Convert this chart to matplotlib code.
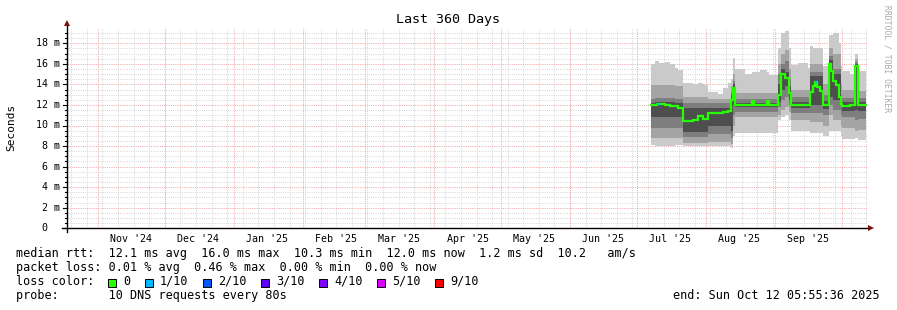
import datetime as dt
import numpy as np
import matplotlib
matplotlib.use("Agg")
import matplotlib.pyplot as plt
from matplotlib.patches import Rectangle

W, H, DPI = 897, 310, 100

# ---------------- data ----------------
title = "Last 360 Days"
end_time = dt.datetime(2025, 10, 12, 5, 55, 36)
span_days = 360
start_time = end_time - dt.timedelta(days=span_days)

# time of each step (days since start of the 360-day window)
days = [263.1, 264.9, 265.8, 266.7, 269.3, 271.6, 273.8, 275.2,
        277.4, 281.9, 284.2, 286.4, 288.7, 293.2, 295.4, 297.7,
        299.0, 299.9, 300.8, 305.3, 308.5, 309.4, 312.1, 315.2, 316.1,
        320.2, 321.5, 323.3, 325.1, 326.0, 329.1, 333.6,
        334.5, 335.9, 336.8, 337.7, 339.0, 340.3,
        343.0, 343.9, 344.8, 346.2, 347.5, 348.4,
        348.9, 352.5, 354.8, 356.1, 359.6]
# median rtt (ms)
median = [11.95, 12.0, 12.1, 12.05, 11.95, 11.9, 11.85, 11.75,
          10.4, 10.5, 10.9, 10.6, 11.2, 11.25, 11.3, 11.4,
          12.5, 13.6, 12.0, 12.0, 12.4, 12.0, 12.0, 12.4, 12.0,
          13.0, 15.0, 14.6, 13.2, 12.0, 12.0, 12.0,
          13.3, 13.8, 14.2, 13.7, 13.4, 12.0,
          16.0, 15.3, 14.3, 13.9, 12.8, 12.1,
          11.9, 12.0, 15.8, 12.0, 12.0]
# packets lost out of 10
loss = [0, 0, 1, 0, 0, 0, 0, 0,
        0, 0, 0, 0, 0, 0, 0, 0,
        0, 0, 0, 0, 0, 0, 0, 0, 0,
        0, 0, 0, 0, 0, 0, 0,
        0, 0, 1, 0, 0, 0,
        0, 0, 0, 0, 0, 0,
        0, 0, 0, 0, 0]
# smoke bands (ms): 1 = innermost ... 4 = outermost
smoke1_lo = [10.8, 10.8, 10.8, 10.8, 10.8, 10.8, 10.8, 10.8,
             9.4, 9.4, 9.4, 9.4, 10.0, 10.0, 10.0, 10.0,
             9.5, 12.0, 11.8, 11.8, 11.8, 11.8, 11.8, 11.8, 11.8,
             12.3, 13.5, 13.8, 12.5, 11.7, 11.7, 11.7,
             12.0, 12.0, 12.0, 12.0, 12.0, 11.6,
             12.8, 12.8, 12.5, 12.5, 12.5, 11.8,
             11.4, 11.4, 11.5, 11.4, 11.4]
smoke1_hi = [12.2, 12.3, 12.3, 12.3, 12.3, 12.3, 12.2, 12.2,
             11.7, 11.7, 11.7, 11.7, 11.7, 11.7, 11.7, 11.7,
             13.0, 14.0, 12.2, 12.2, 12.5, 12.2, 12.2, 12.5, 12.2,
             14.0, 15.5, 15.2, 13.8, 12.3, 12.3, 12.3,
             14.8, 14.8, 14.8, 14.8, 14.8, 12.4,
             16.4, 16.4, 15.0, 15.0, 15.0, 12.4,
             12.3, 12.3, 16.0, 12.3, 12.3]
smoke2_lo = [9.8, 9.8, 9.8, 9.8, 9.8, 9.8, 9.8, 9.8,
             8.9, 8.9, 8.9, 8.9, 9.2, 9.2, 9.2, 9.2,
             8.8, 11.0, 11.3, 11.3, 11.3, 11.3, 11.3, 11.3, 11.3,
             11.8, 12.5, 12.8, 12.0, 11.2, 11.2, 11.2,
             11.2, 11.2, 11.2, 11.2, 11.2, 11.0,
             12.0, 12.0, 11.5, 11.5, 11.5, 11.0,
             10.8, 10.8, 10.5, 10.6, 10.6]
smoke2_hi = [12.6, 12.7, 12.7, 12.7, 12.7, 12.7, 12.6, 12.6,
             12.2, 12.2, 12.2, 12.2, 12.2, 12.2, 12.2, 12.2,
             13.3, 14.3, 12.6, 12.6, 12.6, 12.6, 12.6, 12.6, 12.6,
             15.0, 16.0, 16.3, 14.5, 12.8, 12.8, 12.8,
             15.2, 15.2, 15.2, 15.2, 15.2, 13.0,
             16.8, 16.8, 15.5, 15.5, 15.5, 13.0,
             12.7, 12.7, 16.2, 12.7, 12.7]
smoke3_lo = [8.8, 8.8, 8.8, 8.8, 8.8, 8.8, 8.8, 8.8,
             8.3, 8.3, 8.3, 8.3, 8.4, 8.4, 8.4, 8.4,
             8.2, 10.0, 10.8, 10.8, 10.8, 10.8, 10.8, 10.8, 10.8,
             11.0, 11.5, 11.8, 11.3, 10.5, 10.5, 10.5,
             10.3, 10.3, 10.3, 10.3, 10.3, 10.0,
             11.0, 11.0, 10.5, 10.5, 10.5, 10.0,
             9.8, 9.8, 9.5, 9.6, 9.6]
smoke3_hi = [13.9, 13.9, 13.9, 13.9, 13.9, 13.9, 13.8, 13.8,
             12.8, 12.8, 12.8, 12.8, 12.6, 12.6, 12.6, 12.6,
             13.8, 15.0, 13.2, 13.2, 13.2, 13.2, 13.2, 13.2, 13.2,
             16.0, 17.0, 17.3, 15.5, 13.5, 13.5, 13.5,
             16.0, 16.0, 16.0, 16.0, 16.0, 14.0,
             17.5, 17.5, 17.0, 17.0, 17.0, 14.0,
             13.5, 13.5, 16.5, 13.4, 13.4]
smoke4_lo = [8.1, 8.0, 8.0, 8.0, 8.0, 8.0, 8.1, 8.1,
             8.0, 8.0, 8.0, 8.0, 8.0, 8.0, 8.0, 8.0,
             7.8, 9.0, 9.3, 9.3, 9.3, 9.3, 9.3, 9.3, 9.3,
             10.5, 10.8, 11.0, 10.5, 9.5, 9.5, 9.5,
             9.3, 9.3, 9.3, 9.3, 9.3, 9.0,
             9.5, 9.5, 9.5, 9.5, 9.5, 9.0,
             8.7, 8.7, 8.8, 8.6, 8.6]
smoke4_hi = [16.0, 16.3, 16.3, 16.1, 16.2, 16.0, 15.6, 15.4,
             14.1, 14.0, 14.1, 13.9, 13.3, 13.1, 13.6, 14.1,
             14.5, 16.6, 15.5, 15.0, 15.2, 15.2, 15.4, 15.2, 14.9,
             17.5, 19.0, 19.2, 17.5, 15.9, 16.1, 15.6,
             17.7, 17.5, 17.5, 17.5, 17.5, 15.8,
             18.8, 18.8, 19.0, 19.0, 18.0, 15.8,
             15.3, 15.0, 17.0, 15.3, 15.3]

y_max_ms = 19.4
loss_levels = ["0", "1/10", "2/10", "3/10", "4/10", "5/10", "9/10"]
loss_colors = ["#26ff00", "#00b8ff", "#0059ff", "#5e00ff", "#7e00ff", "#dd00ff", "#ff0000"]
loss_color_by_count = {0: "#26ff00", 1: "#00b8ff", 2: "#0059ff", 3: "#5e00ff",
                       4: "#7e00ff", 5: "#dd00ff", 9: "#ff0000"}

stats_line1 = "median rtt:  12.1 ms avg  16.0 ms max  10.3 ms min  12.0 ms now  1.2 ms sd  10.2   am/s"
stats_line2 = "packet loss: 0.01 % avg  0.46 % max  0.00 % min  0.00 % now"
loss_label = "loss color:"
probe_line = "probe:       10 DNS requests every 80s"
end_line = "end: Sun Oct 12 05:55:36 2025"

# ---------------- figure ----------------
MONO = "DejaVu Sans Mono"
fig = plt.figure(figsize=(W / DPI, H / DPI), dpi=DPI, facecolor="white")

ax_left, ax_right = 67, 868
ax_bottom_y = 228.3
px_per_ms = 10.28
ax_h = y_max_ms * px_per_ms
ax = fig.add_axes([ax_left / W, (H - ax_bottom_y) / H, (ax_right - ax_left) / W, ax_h / H])
ax.set_facecolor("white")
x0_day, x1_day = 0.83, 360.55
ax.set_xlim(x0_day, x1_day)
ax.set_ylim(0, y_max_ms)
for s in ax.spines.values():
    s.set_visible(False)
ax.set_xticks([])
ax.set_yticks([])

def to_day(t):
    return (t - start_time).total_seconds() / 86400.0

minor_c = "#d8d8d8"
major_c = "#f2a6a6"
dots = (0, (1, 1.2))
grid_kw = dict(lw=0.72, ls=dots)
# horizontal grid
for v in np.arange(0.5, y_max_ms, 0.5):
    if abs(v / 2 - round(v / 2)) < 1e-6:
        continue
    ax.axhline(v, color=minor_c, zorder=1, **grid_kw)
for v in np.arange(2, y_max_ms, 2):
    ax.axhline(v, color=major_c, zorder=1.5, **grid_kw)

# weekly minor verticals (Sundays)
d = dt.datetime(2024, 10, 20)
while d < end_time:
    ax.axvline(to_day(d), color=minor_c, zorder=1, **grid_kw)
    d += dt.timedelta(days=7)
# monthly major verticals + labels
month_starts = []
y, m = 2024, 11
while True:
    t = dt.datetime(y, m, 1)
    if t > end_time:
        break
    month_starts.append(t)
    m += 1
    if m > 12:
        m, y = 1, y + 1
for t in month_starts:
    ax.axvline(to_day(t), color=major_c, zorder=1.5, **grid_kw)
    lab_day = to_day(t) + 15
    if x0_day < lab_day < x1_day:
        ax.text(lab_day, -10.2 / px_per_ms, t.strftime("%b '%y"), ha="center", va="center",
                fontsize=7.2, family=MONO, color="#000000")

# smoke
dx = np.array(days)
layers = [(smoke4_lo, smoke4_hi, "#cacaca"),
          (smoke3_lo, smoke3_hi, "#a4a4a4"),
          (smoke2_lo, smoke2_hi, "#7e7e7e"),
          (smoke1_lo, smoke1_hi, "#4e4e4e")]
for lo, hi, c in layers:
    ax.fill_between(dx, lo, hi, step="post", color=c, lw=0, zorder=3)

# median line (green), overlaid with loss colours
ax.step(dx, median, where="post", color=loss_color_by_count[0], lw=1.6, zorder=4,
        solid_joinstyle="miter")
for i in range(len(dx) - 1):
    if loss[i] > 0:
        ax.plot([dx[i], dx[i + 1]], [median[i], median[i]], color=loss_color_by_count[loss[i]],
                lw=1.6, zorder=5, solid_capstyle="butt")

# axes lines with arrows
axis_c = "#000000"
arrow_c = "#7a1010"
ax.plot([x0_day - 4.5 / 2.2267, x1_day + 0.5], [0, 0], color=axis_c, lw=1.0, clip_on=False, zorder=6)
ax.plot([x0_day, x0_day], [-4 / px_per_ms, y_max_ms + 4 / px_per_ms], color=axis_c, lw=1.0,
        clip_on=False, zorder=6)
ax.plot([x1_day + 1.3], [0], marker=">", color=arrow_c, ms=4.5, clip_on=False, zorder=7, mew=0)
ax.plot([x0_day], [y_max_ms + 5.5 / px_per_ms], marker="^", color=arrow_c, ms=4.5,
        clip_on=False, zorder=7, mew=0)
# y ticks
for v in np.arange(0, y_max_ms, 0.5):
    major = abs(v / 2 - round(v / 2)) < 1e-6
    ln = 3.5 if major else 1.5
    ax.plot([x0_day - ln / 2.2267, x0_day], [v, v], color=axis_c, lw=0.8, clip_on=False, zorder=6)
for v in np.arange(0, y_max_ms, 2):
    lab = "0  " if v == 0 else f"{int(v)} m"
    ax.text(x0_day - 7 / 2.2267, v, lab, ha="right", va="center", fontsize=7.2, family=MONO,
            color="#000000")

# title, y label, watermark
fig.text(448 / W, 1 - 19 / H, title, ha="center", va="center", fontsize=9.6, family=MONO)
fig.text(11 / W, 1 - 127 / H, "Seconds", ha="center", va="center", rotation=90,
         fontsize=8, family=MONO)
fig.text(887 / W, 1 - 59 / H, "RRDTOOL / TOBI OETIKER", ha="center", va="center", rotation=270,
         fontsize=5.8, family=MONO, color="#aaaaaa")

# legend
fs = 8.5
fig.text(16 / W, 1 - 257 / H, stats_line1, ha="left", va="baseline", fontsize=fs, family=MONO)
fig.text(16 / W, 1 - 271 / H, stats_line2, ha="left", va="baseline", fontsize=fs, family=MONO)
fig.text(16 / W, 1 - 285 / H, loss_label, ha="left", va="baseline", fontsize=fs, family=MONO)
box_x = [108, 145, 203, 261, 319, 377, 435]
for bx, lab, c in zip(box_x, loss_levels, loss_colors):
    fig.patches.append(Rectangle((bx / W, 1 - 287 / H), 8 / W, 8 / H, transform=fig.transFigure,
                                 facecolor=c, edgecolor="#000000", lw=0.7))
    fig.text((bx + 15) / W, 1 - 285 / H, lab, ha="left", va="baseline", fontsize=fs, family=MONO)
fig.text(16 / W, 1 - 299 / H, probe_line, ha="left", va="baseline", fontsize=fs, family=MONO)
fig.text(880 / W, 1 - 299 / H, end_line, ha="right", va="baseline", fontsize=fs, family=MONO)

fig.savefig("out.png", dpi=DPI, facecolor="white")
